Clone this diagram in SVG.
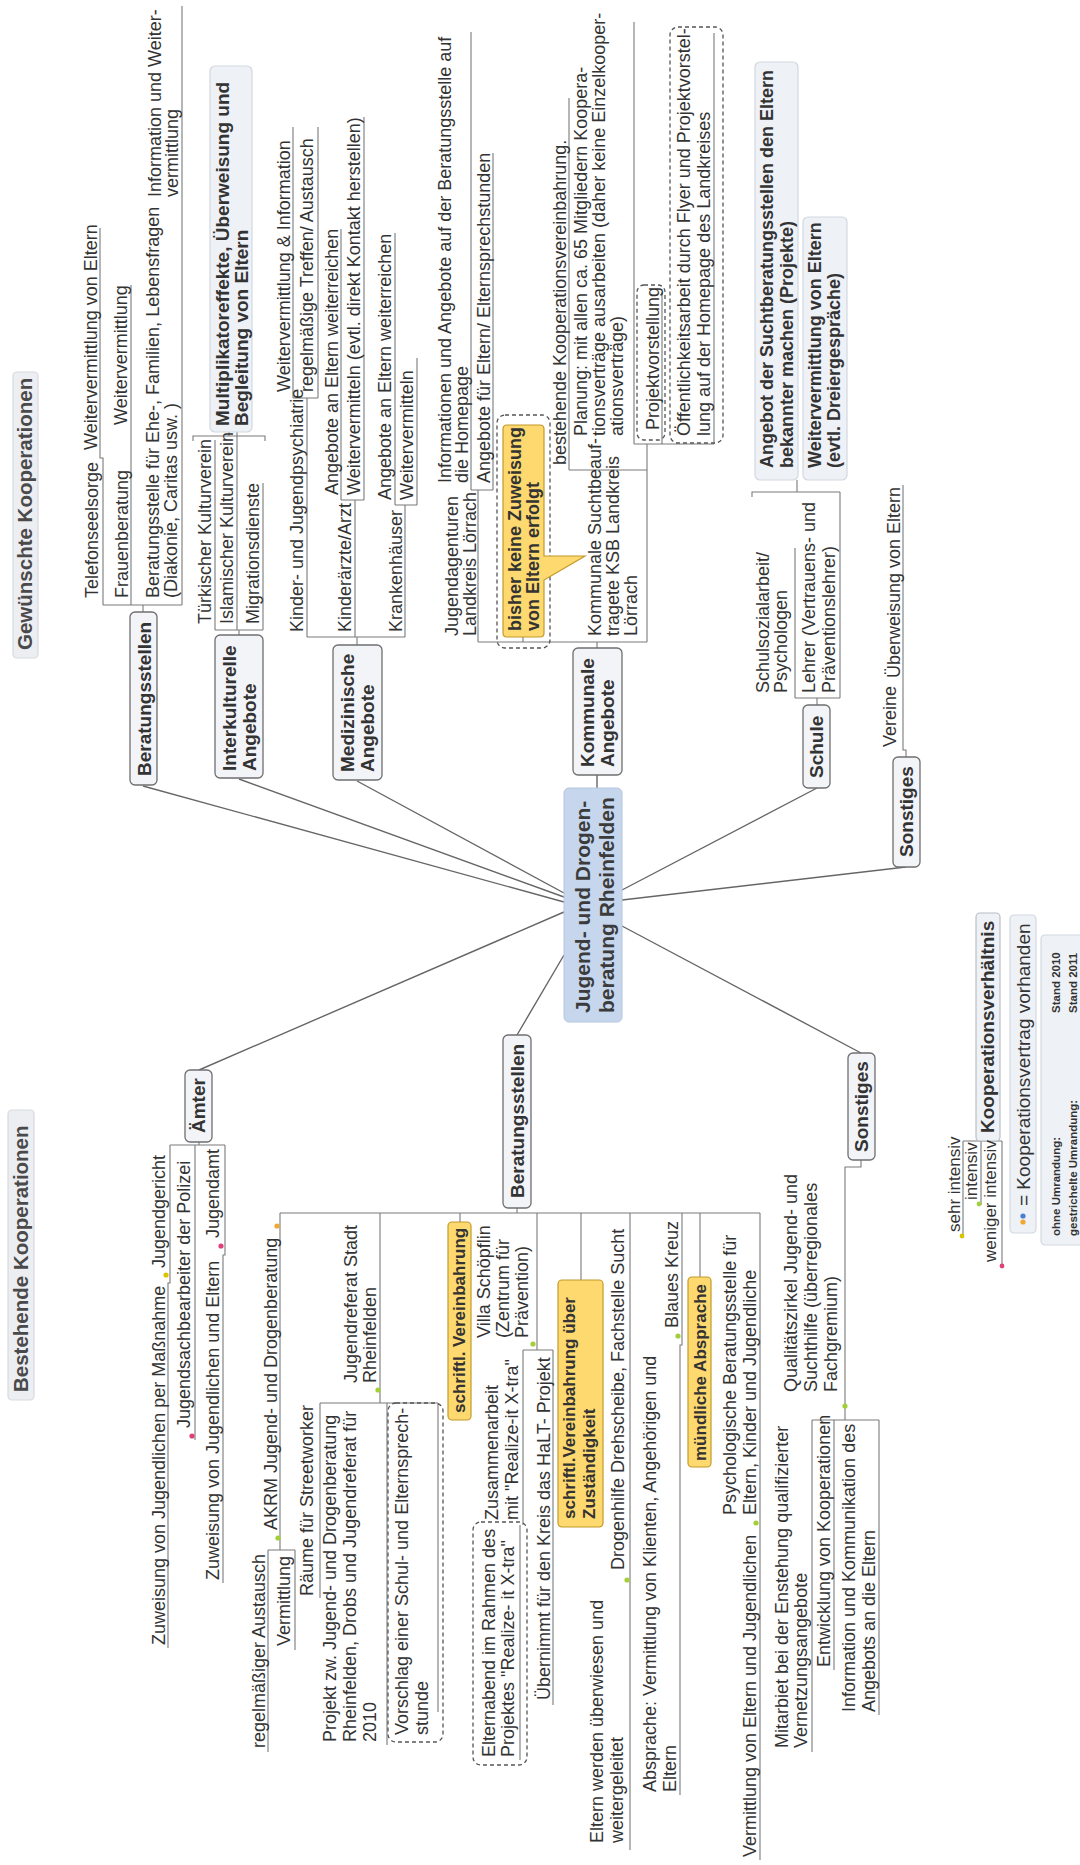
<svg xmlns="http://www.w3.org/2000/svg" width="1080" height="1865" viewBox="0 0 1080 1865">
<style>
.t{font-family:"Liberation Sans",Arial,sans-serif;font-size:18px;fill:#333}
.b{font-weight:bold}
.n19{font-size:19px}
.n17{font-size:17px}
.ttl{font-size:20.5px;fill:#4a4a4a;font-weight:bold}
.nd{fill:#f2f4f8;stroke:#6f6f6f;stroke-width:1.3}
.sm{fill:#eef1f6;stroke:#d2d7df;stroke-width:1.2}
.tb{fill:#eceef2;stroke:#d6d9de;stroke-width:1.2}
.yl{fill:#fdd96f;stroke:#c49a2a;stroke-width:1.2}
.ds{fill:none;stroke:#555;stroke-width:1.3;stroke-dasharray:4 3}
.c{fill:none;stroke:#666;stroke-width:1.4}
.u{fill:none;stroke:#7a7a7a;stroke-width:1.1}
</style>
<rect width="1080" height="1865" fill="#fff"/>

<!-- connectors: centre spokes, brackets and topic underlines -->
<g id="connectors">
  <path class="c" d="M143,786 L564,902 M239,779 L564,897 M357,781 L564,893 M597,775 V788 M817,788 L622,890 M906,867 L622,900 M199,1070 L564,912 M517,1035 L564,955 M861,1053 L622,926"/>
  <!-- Beratungsstellen (wanted) -->
  <path class="u" d="M143,612 V605 M103,605 H182 M103,605 V458 H100 V228 M131,605 V285 M182,605 V6"/>
  <!-- Interkulturelle -->
  <path class="u" d="M239,635 V630 M215,630 H263 M215,630 V440 M237,630 V432 M263,630 V483 M193,441 V436 H265 V441 M229,436 V432"/>
  <!-- Medizinische -->
  <path class="u" d="M357,645 V637 M307,637 H405 M307,637 V398 M293,398 H318 M293,398 V127 M318,398 V127 M355,637 V500 M341,500 H364 M341,500 V229 M364,500 V117 M405,637 V505 M395,505 H417 M395,505 V233 M417,505 V358"/>
  <!-- Kommunale -->
  <path class="u" d="M597,648 V642 M478,642 H647 M478,642 V490 M471,490 H493 M471,490 V32 M493,490 V153 M523,637 V642 M647,642 V444 M569,470 H647 M569,470 V98 M634,444 H714 M634,444 V22 M662,444 V292 M714,444 V33"/>
  <!-- Schule -->
  <path class="u" d="M817,705 V698 M795,698 H840 M795,698 V548 M840,698 V492 M752,497 V492 H840 M797,492 V480"/>
  <!-- Sonstiges (wanted) -->
  <path class="u" d="M906,757 V750 H903 V485"/>
  <!-- Aemter -->
  <path class="u" d="M199,1142 V1145 M170,1145 H225 M170,1145 V1283 H168 V1648 M195,1145 V1440 M225,1145 V1255 H223 V1583"/>
  <!-- Beratungsstellen (existing) -->
  <path class="u" d="M517,1208 V1213 M280,1213 H760 M280,1213 V1550 M268,1550 H295 M268,1550 V1752 M295,1550 V1650 M380,1213 V1403 M320,1403 H438 M320,1403 V1598 M387,1403 V1745 M438,1403 V1712 M460,1213 V1222 M537,1213 V1350 M523,1350 H553 M523,1350 V1525 M520,1525 V1760 M553,1350 V1705 M581,1213 V1280 M630,1213 V1850 M682,1213 V1345 H680 V1795 M700,1213 V1277 M760,1213 V1860"/>
  <!-- Sonstiges (existing) -->
  <path class="u" d="M861,1160 V1167 H845 V1420 M812,1420 H879 M812,1420 V1752 M834,1420 V1670 M879,1420 V1715"/>
  <!-- legend -->
  <path class="u" d="M963,1141 H1002 M963,1141 V1238 M981,1141 V1205 M1002,1141 V1265"/>
</g>

<!-- headings -->
<g id="title-wanted">
  <rect class="tb" x="13" y="372" width="25" height="286" rx="4"/>
  <text class="t ttl" transform="translate(32 650) rotate(-90)">Gewünschte Kooperationen</text>
</g>
<g id="title-existing">
  <rect class="tb" x="8" y="1110" width="26" height="290" rx="4"/>
  <text class="t ttl" transform="translate(28 1392) rotate(-90)">Bestehende Kooperationen</text>
</g>

<!-- centre -->
<g id="center">
  <rect x="564" y="788" width="58" height="234" rx="5" fill="#c6d6ec" stroke="#b4c6df"/>
  <text class="t b" style="font-size:21px;fill:#3b3b3b" transform="translate(590 1013) rotate(-90)"><tspan x="0" y="0">Jugend- und Drogen-</tspan><tspan x="0" y="24">beratung Rheinfelden</tspan></text>
</g>

<!-- wanted: Beratungsstellen -->
<g id="w-beratung">
  <rect class="nd" x="130" y="612" width="27" height="173" rx="5"/>
  <text class="t b n19" transform="translate(151 776) rotate(-90)">Beratungsstellen</text>
  <text class="t" transform="translate(98 598) rotate(-90)">Telefonseelsorge</text>
  <text class="t" transform="translate(97 450) rotate(-90)">Weitervermittlung von Eltern</text>
  <text class="t" transform="translate(128 598) rotate(-90)">Frauenberatung</text>
  <text class="t" transform="translate(127 425) rotate(-90)">Weitervermittlung</text>
  <text class="t" transform="translate(159 598) rotate(-90)"><tspan x="0" y="0">Beratungsstelle für Ehe-, Familien, Lebensfragen</tspan><tspan x="0" y="18">(Diakonie, Caritas usw. )</tspan></text>
  <text class="t" transform="translate(161 197) rotate(-90)"><tspan x="0" y="0">Information und Weiter-</tspan><tspan x="0" y="17">vermittlung</tspan></text>
</g>

<!-- wanted: Interkulturelle Angebote -->
<g id="w-interkulturell">
  <rect class="nd" x="215" y="635" width="48" height="143" rx="5"/>
  <text class="t b n19" transform="translate(236 771) rotate(-90)"><tspan x="0" y="0">Interkulturelle</tspan><tspan x="0" y="20">Angebote</tspan></text>
  <text class="t" transform="translate(211 624) rotate(-90)">Türkischer Kulturverein</text>
  <text class="t" transform="translate(233 624) rotate(-90)">Islamischer Kulturverein</text>
  <text class="t" transform="translate(259 624) rotate(-90)">Migrationsdienste</text>
</g>
<g id="w-multiplikator">
  <rect class="sm" x="210" y="66" width="42" height="366" rx="5"/>
  <text class="t b n19" transform="translate(229 426) rotate(-90)"><tspan x="0" y="0">Multiplikatoreffekte, Überweisung und</tspan><tspan x="0" y="19">Begleitung von Eltern</tspan></text>
</g>

<!-- wanted: Medizinische Angebote -->
<g id="w-medizin">
  <rect class="nd" x="333" y="645" width="49" height="135" rx="5"/>
  <text class="t b n19" transform="translate(354 772) rotate(-90)"><tspan x="0" y="0">Medizinische</tspan><tspan x="0" y="20">Angebote</tspan></text>
  <text class="t" transform="translate(303 632) rotate(-90)">Kinder- und Jugendpsychiatrie</text>
  <text class="t" transform="translate(290 392) rotate(-90)">Weitervermittlung &amp; Information</text>
  <text class="t" transform="translate(313 392) rotate(-90)">regelmäßige Treffen/ Austausch</text>
  <text class="t" transform="translate(351 632) rotate(-90)">Kinderärzte/Arzt</text>
  <text class="t" transform="translate(338 495) rotate(-90)">Angebote an Eltern weiterreichen</text>
  <text class="t" transform="translate(360 495) rotate(-90)">Weitervermitteln (evtl. direkt Kontakt herstellen)</text>
  <text class="t" transform="translate(402 632) rotate(-90)">Krankenhäuser</text>
  <text class="t" transform="translate(391 500) rotate(-90)">Angebote an Eltern weiterreichen</text>
  <text class="t" transform="translate(413 500) rotate(-90)">Weitervermitteln</text>
</g>

<!-- wanted: Kommunale Angebote -->
<g id="w-kommunal">
  <rect class="nd" x="573" y="648" width="49" height="127" rx="5"/>
  <text class="t b n19" transform="translate(594 767) rotate(-90)"><tspan x="0" y="0">Kommunale</tspan><tspan x="0" y="20">Angebote</tspan></text>
  <text class="t" transform="translate(458 636) rotate(-90)"><tspan x="0" y="0">Jugendagenturen</tspan><tspan x="0" y="18">Landkreis Lörrach</tspan></text>
  <text class="t" transform="translate(451 483) rotate(-90)"><tspan x="0" y="0">Informationen und Angebote auf der Beratungsstelle auf</tspan><tspan x="0" y="17">die Homepage</tspan></text>
  <text class="t" transform="translate(490 483) rotate(-90)">Angebote für Eltern/ Elternsprechstunden</text>
  <text class="t" transform="translate(601 636) rotate(-90)"><tspan x="0" y="0">Kommunale Suchtbeauf-</tspan><tspan x="0" y="18">tragete KSB Landkreis</tspan><tspan x="0" y="36">Lörrach</tspan></text>
  <text class="t" transform="translate(566 465) rotate(-90)">bestehende Kooperationsvereinbahrung.</text>
  <text class="t" transform="translate(587 436) rotate(-90)"><tspan x="0" y="0">Planung: mit allen ca. 65 Mitgliedern Koopera-</tspan><tspan x="0" y="18">tionsverträge ausarbeiten (daher keine Einzelkooper-</tspan><tspan x="0" y="36">ationsverträge)</tspan></text>
</g>
<g id="w-callout">
  <rect class="ds" x="497" y="415" width="53" height="233" rx="8"/>
  <path class="yl" d="M507,425 H540 Q544,425 544,429 V556 L585,556 L544,580 V633 Q544,637 540,637 H507 Q503,637 503,633 V429 Q503,425 507,425 Z"/>
  <text class="t b" transform="translate(521 631) rotate(-90)"><tspan x="0" y="0">bisher keine Zuweisung</tspan><tspan x="0" y="18">von Eltern erfolgt</tspan></text>
</g>
<g id="w-projekt">
  <rect class="ds" x="637" y="285" width="28" height="155" rx="7"/>
  <text class="t" transform="translate(659 430) rotate(-90)">Projektvorstellung</text>
</g>
<g id="w-oeffentlichkeit">
  <rect class="ds" x="670" y="27" width="53" height="416" rx="8"/>
  <text class="t" transform="translate(690 436) rotate(-90)"><tspan x="0" y="0">Öffentlichkeitsarbeit durch Flyer und Projektvorstel-</tspan><tspan x="0" y="20">lung auf der Homepage des Landkreises</tspan></text>
</g>

<!-- wanted: Schule -->
<g id="w-schule">
  <rect class="nd" x="803" y="705" width="27" height="83" rx="5"/>
  <text class="t b n19" transform="translate(823 778) rotate(-90)">Schule</text>
  <text class="t" transform="translate(769 693) rotate(-90)"><tspan x="0" y="0">Schulsozialarbeit/</tspan><tspan x="0" y="18">Psychologen</tspan></text>
  <text class="t" transform="translate(815 693) rotate(-90)"><tspan x="0" y="0">Lehrer (Vertrauens- und</tspan><tspan x="0" y="20">Präventionslehrer)</tspan></text>
</g>
<g id="w-angebot">
  <rect class="sm" x="755" y="62" width="43" height="418" rx="5"/>
  <text class="t b" transform="translate(773 468) rotate(-90)"><tspan x="0" y="0">Angebot der Suchtberatungsstellen den Eltern</tspan><tspan x="0" y="20">bekannter machen (Projekte)</tspan></text>
</g>
<g id="w-weitervermittlung">
  <rect class="sm" x="803" y="217" width="44" height="263" rx="5"/>
  <text class="t b" transform="translate(821 468) rotate(-90)"><tspan x="0" y="0">Weitervermittlung von Eltern</tspan><tspan x="0" y="19">(evtl. Dreiergespräche)</tspan></text>
</g>

<!-- wanted: Sonstiges -->
<g id="w-sonstiges">
  <rect class="nd" x="893" y="757" width="27" height="110" rx="5"/>
  <text class="t b n19" transform="translate(913 857) rotate(-90)">Sonstiges</text>
  <text class="t" transform="translate(896 747) rotate(-90)">Vereine</text>
  <text class="t" transform="translate(900 678) rotate(-90)">Überweisung von Eltern</text>
</g>

<!-- existing: Aemter -->
<g id="e-aemter">
  <rect class="nd" x="185" y="1070" width="27" height="72" rx="5"/>
  <text class="t b n19" transform="translate(205 1133) rotate(-90)">Ämter</text>
  <text class="t" transform="translate(165 1268) rotate(-90)">Jugendgericht</text>
  <circle cx="166" cy="1275" r="2.6" fill="#d9c400"/>
  <text class="t" transform="translate(165 1645) rotate(-90)">Zuweisung von Jugendlichen per Maßnahme</text>
  <text class="t" transform="translate(190 1428) rotate(-90)">Jugendsachbearbeiter der Polizei</text>
  <circle cx="192" cy="1436" r="2.6" fill="#e0407a"/>
  <text class="t" transform="translate(219 1238) rotate(-90)">Jugendamt</text>
  <circle cx="221" cy="1246" r="2.6" fill="#e0407a"/>
  <text class="t" transform="translate(219 1580) rotate(-90)">Zuweisung von Jugendlichen und Eltern</text>
</g>

<!-- existing: Beratungsstellen -->
<g id="e-beratung">
  <rect class="nd" x="503" y="1035" width="28" height="173" rx="5"/>
  <text class="t b n19" transform="translate(524 1198) rotate(-90)">Beratungsstellen</text>
  <text class="t" transform="translate(277 1530) rotate(-90)">AKRM Jugend- und Drogenberatung</text>
  <circle cx="278" cy="1538" r="2.6" fill="#a5cf3a"/>
  <circle cx="277" cy="1226" r="2.6" fill="#f0a830"/>
  <text class="t" transform="translate(265 1748) rotate(-90)">regelmäßiger Austausch</text>
  <text class="t" transform="translate(290 1646) rotate(-90)">Vermittlung</text>
  <text class="t" transform="translate(357 1383) rotate(-90)"><tspan x="0" y="0">Jugendreferat Stadt</tspan><tspan x="0" y="19">Rheinfelden</tspan></text>
  <circle cx="378" cy="1390" r="2.6" fill="#a5cf3a"/>
  <text class="t" transform="translate(313 1596) rotate(-90)">Räume für Streetworker</text>
  <text class="t" transform="translate(336 1742) rotate(-90)"><tspan x="0" y="0">Projekt zw. Jugend- und Drogenberatung</tspan><tspan x="0" y="20">Rheinfelden, Drobs und Jugendreferat für</tspan><tspan x="0" y="40">2010</tspan></text>
  <rect class="ds" x="388" y="1403" width="55" height="339" rx="8"/>
  <text class="t" transform="translate(408 1735) rotate(-90)"><tspan x="0" y="0">Vorschlag einer Schul- und Elternsprech-</tspan><tspan x="0" y="20">stunde</tspan></text>
  <rect class="yl" x="448" y="1222" width="23" height="198" rx="4"/>
  <text class="t b n17" transform="translate(465 1413) rotate(-90)">schriftl. Vereinbahrung</text>
  <text class="t" transform="translate(490 1338) rotate(-90)"><tspan x="0" y="0">Villa Schöpflin</tspan><tspan x="0" y="19">(Zentrum für</tspan><tspan x="0" y="38">Prävention)</tspan></text>
  <circle cx="533" cy="1344" r="2.6" fill="#a5cf3a"/>
  <text class="t" transform="translate(498 1520) rotate(-90)"><tspan x="0" y="0">Zusammenarbeit</tspan><tspan x="0" y="20">mit "Realize-it X-tra"</tspan></text>
  <rect class="ds" x="473" y="1522" width="54" height="243" rx="8"/>
  <text class="t" transform="translate(495 1757) rotate(-90)"><tspan x="0" y="0">Elternabend im Rahmen des</tspan><tspan x="0" y="19">Projektes "Realize- it X-tra"</tspan></text>
  <text class="t" transform="translate(550 1700) rotate(-90)">Übernimmt für den Kreis das HaLT- Projekt</text>
  <rect class="yl" x="558" y="1280" width="45" height="247" rx="4"/>
  <text class="t b n17" transform="translate(575 1519) rotate(-90)"><tspan x="0" y="0">schriftl.Vereinbahrung über</tspan><tspan x="0" y="20">Zuständigkeit</tspan></text>
  <text class="t" transform="translate(624 1570) rotate(-90)">Drogenhilfe Drehscheibe, Fachstelle Sucht</text>
  <circle cx="627" cy="1580" r="2.6" fill="#a5cf3a"/>
  <text class="t" transform="translate(603 1843) rotate(-90)"><tspan x="0" y="0">Eltern werden überwiesen und</tspan><tspan x="0" y="20">weitergeleitet</tspan></text>
  <text class="t" transform="translate(678 1328) rotate(-90)">Blaues Kreuz</text>
  <circle cx="678" cy="1336" r="2.6" fill="#a5cf3a"/>
  <text class="t" transform="translate(656 1792) rotate(-90)"><tspan x="0" y="0">Absprache: Vermittlung von Klienten, Angehörigen und</tspan><tspan x="0" y="20">Eltern</tspan></text>
  <rect class="yl" x="688" y="1277" width="23" height="190" rx="4"/>
  <text class="t b n17" transform="translate(706 1461) rotate(-90)">mündliche Absprache</text>
  <text class="t" transform="translate(736 1515) rotate(-90)"><tspan x="0" y="0">Psychologische Beratungsstelle für</tspan><tspan x="0" y="20">Eltern, Kinder und Jugendliche</tspan></text>
  <circle cx="756" cy="1523" r="2.6" fill="#a5cf3a"/>
  <text class="t" transform="translate(756 1857) rotate(-90)">Vermittlung von Eltern und Jugendlichen</text>
</g>

<!-- existing: Sonstiges -->
<g id="e-sonstiges">
  <rect class="nd" x="848" y="1053" width="27" height="107" rx="5"/>
  <text class="t b n19" transform="translate(868 1152) rotate(-90)">Sonstiges</text>
  <text class="t" transform="translate(797 1392) rotate(-90)"><tspan x="0" y="0">Qualitätszirkel Jugend- und</tspan><tspan x="0" y="20">Suchthilfe (überregionales</tspan><tspan x="0" y="40">Fachgremium)</tspan></text>
  <circle cx="845" cy="1406" r="2.6" fill="#a5cf3a"/>
  <text class="t" transform="translate(788 1748) rotate(-90)"><tspan x="0" y="0">Mitarbiet bei der Enstehung qualifizierter</tspan><tspan x="0" y="19">Vernetzungsangebote</tspan></text>
  <text class="t" transform="translate(830 1667) rotate(-90)">Entwicklung von Kooperationen</text>
  <text class="t" transform="translate(855 1712) rotate(-90)"><tspan x="0" y="0">Information und Kommunikation des</tspan><tspan x="0" y="20">Angebots an die Eltern</tspan></text>
</g>

<!-- legend -->
<g id="legend-intensity">
  <rect class="sm" x="976" y="913" width="24" height="228" rx="4" style="stroke:#b9bec6"/>
  <text class="t b n19" transform="translate(994 1133) rotate(-90)">Kooperationsverhältnis</text>
  <text class="t n17" transform="translate(960 1232) rotate(-90)">sehr intensiv</text>
  <circle cx="962" cy="1236" r="2.4" fill="#d9c400"/>
  <text class="t n17" transform="translate(977 1200) rotate(-90)">intensiv</text>
  <circle cx="979" cy="1204" r="2.4" fill="#a5cf3a"/>
  <text class="t n17" transform="translate(996 1262) rotate(-90)">weniger intensiv</text>
  <circle cx="1002" cy="1266" r="2.4" fill="#e0407a"/>
</g>
<g id="legend-contract">
  <rect class="sm" x="1010" y="915" width="26" height="318" rx="4"/>
  <circle cx="1023" cy="1222" r="2.6" fill="#f0a830"/>
  <circle cx="1023" cy="1216" r="2.6" fill="#4a7fd0"/>
  <text class="t n19" transform="translate(1030 1206) rotate(-90)">= Kooperationsvertrag vorhanden</text>
</g>
<g id="legend-border">
  <rect class="sm" x="1041" y="935" width="52" height="310" rx="4"/>
  <text class="t b" style="font-size:11.5px" transform="translate(1060 1236) rotate(-90)">ohne Umrandung:</text>
  <text class="t b" style="font-size:11.5px" transform="translate(1060 1013) rotate(-90)">Stand 2010</text>
  <text class="t b" style="font-size:11.5px" transform="translate(1077 1236) rotate(-90)">gestrichelte Umrandung:</text>
  <text class="t b" style="font-size:11.5px" transform="translate(1077 1013) rotate(-90)">Stand 2011</text>
</g>
</svg>
